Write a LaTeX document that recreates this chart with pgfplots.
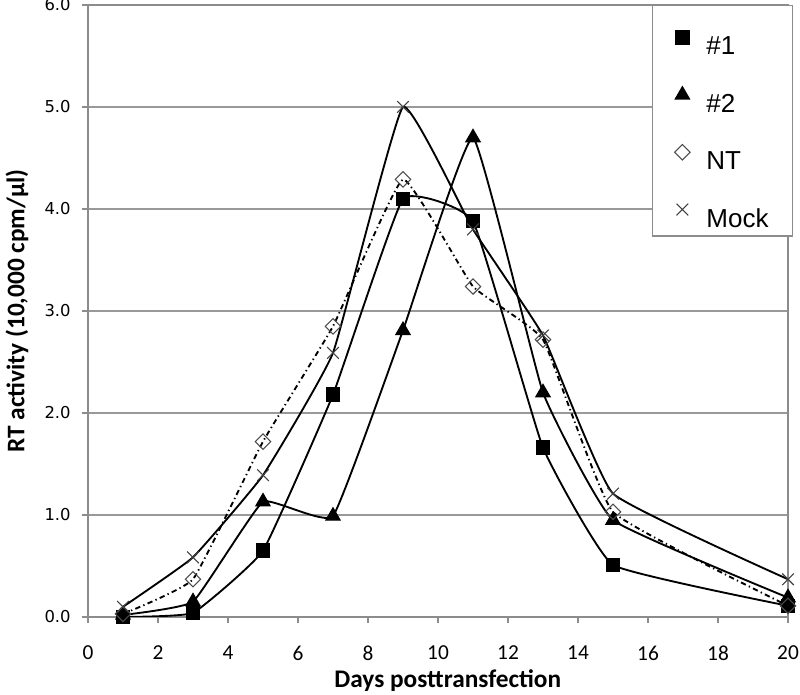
\documentclass[border=0pt]{standalone}
\usepackage{fontspec}
\setmainfont{Carlito}
\newfontfamily\dejavu{DejaVu Sans}
\newfontfamily\liber{Liberation Sans}
\usepackage{pgfplots}
\pgfplotsset{compat=1.18}
\begin{document}
\begin{tikzpicture}
\begin{axis}[
  name=ax,
  scale only axis, width=525pt, height=459pt,
  xmin=0, xmax=20, ymin=0, ymax=6,
  xtick={0,2,...,20}, ytick={0,1,...,6},
  axis line style={black!45, line width=0.9pt},
  ymajorgrids, grid style={black!40, line width=0.9pt},
  tick align=outside, major tick length=4.5pt,
  tick style={black!45, line width=0.9pt},
  xtick pos=left, ytick pos=left,
  /pgf/number format/assume math mode=true,
  xticklabel style={font=\fontsize{16}{19}\selectfont, yshift=-13.5pt},
  yticklabel style={font=\dejavu\fontsize{12.3}{15}\selectfont, xshift=-5pt,
     /pgf/number format/fixed, /pgf/number format/fixed zerofill, /pgf/number format/precision=1},
  xlabel={Days posttransfection},
  ylabel={RT activity (10,000 cpm/µl)},
  label style={font=\bfseries\fontsize{19}{23}\selectfont},
  xlabel style={at={(axis description cs:0.514,-0.1045)}, anchor=center},
  ylabel style={at={(axis description cs:-0.1014,0.5)}, anchor=center},
  legend style={at={(axis description cs:1.00714,1)}, anchor=north east,
     draw=black!45, line width=0.9pt, fill=white, inner xsep=0pt, inner ysep=5pt,
     row sep=9.5pt, font=\liber\fontsize{19.5}{23}\selectfont,
     nodes={inner sep=0pt, text width=64.5pt, align=left, draw=none}},
  legend cell align=left,
  legend image code/.code={\path[draw=none, fill=none] (0pt,-6.75pt) rectangle (40.5pt,26pt);
     \draw[#1, only marks] plot coordinates {(22.5pt,7pt)};},
]
\addplot[black, line width=1.4pt, smooth, tension=0.2, mark=square*, mark size=4.9pt,
  mark options={solid, fill=black, line width=1pt}]
  coordinates {(1,0.0)(3,0.04)(5,0.65)(7,2.18)(9,4.10)(11,3.88)(13,1.66)(15,0.51)(20,0.11)};
\addlegendentry{\#1}
\addplot[black, line width=1.4pt, smooth, tension=0.2, mark=triangle*, mark size=6pt,
  mark options={solid, fill=black, line width=1pt}]
  coordinates {(1,0.02)(3,0.15)(5,1.13)(7,0.99)(9,2.81)(11,4.70)(13,2.20)(15,0.95)(20,0.19)};
\addlegendentry{\#2}
\addplot[black, line width=1.4pt, smooth, tension=0.2, dash pattern=on 4pt off 2.5pt on 1pt off 2.5pt,
  mark=square, mark size=4.1pt,
  mark options={solid, rotate=45, fill=white, draw=black!70, line width=0.8pt}]
  coordinates {(1,0.03)(3,0.37)(5,1.72)(7,2.85)(9,4.29)(11,3.24)(13,2.72)(15,1.03)(20,0.11)};
\addlegendentry{NT}
\addplot[black, line width=1.4pt, smooth, tension=0.2, mark=x, mark size=6.2pt,
  mark options={solid, draw=black!75, line width=0.8pt}]
  coordinates {(1,0.10)(3,0.585)(5,1.39)(7,2.59)(9,5.0)(11,3.80)(13,2.76)(15,1.21)(20,0.37)};
\addlegendentry{Mock}
\end{axis}
\pgfresetboundingbox
\path[use as bounding box] ([shift={(-66pt,-58.5pt)}]ax.south west) rectangle ([shift={(9pt,3.75pt)}]ax.north east);
\end{tikzpicture}
\end{document}
